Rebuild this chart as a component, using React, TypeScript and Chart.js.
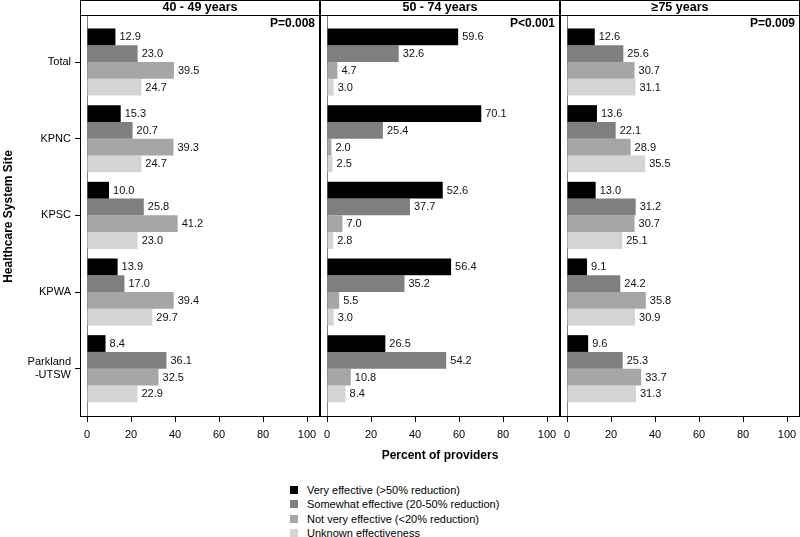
import React, { useEffect, useRef } from 'react';
import { Chart, registerables } from 'chart.js';

Chart.register(...registerables);

const FONT = '"Liberation Sans", Arial, Helvetica, sans-serif';

// ---------- data ----------
const sites = ['Total', 'KPNC', 'KPSC', 'KPWA', 'Parkland-UTSW'];
const siteTickLabels: string[][] = [['Total'], ['KPNC'], ['KPSC'], ['KPWA'], ['Parkland', '-UTSW']];
const seriesNames = [
  'Very effective (>50% reduction)',
  'Somewhat effective (20-50% reduction)',
  'Not very effective (<20% reduction)',
  'Unknown effectiveness',
];
const seriesColors = ['#000000', '#7f7f7f', '#a6a6a6', '#d4d4d4'];
const panelTitles = ['40 - 49 years', '50 - 74 years', '\u226575 years'];
const pValues = ['P=0.008', 'P<0.001', 'P=0.009'];
const xTicks = [0, 20, 40, 60, 80, 100];
const xTitle = 'Percent of providers';
const yTitle = 'Healthcare System Site';

// 40-49 years
const age40Very = [12.9, 15.3, 10.0, 13.9, 8.4];
const age40Somewhat = [23.0, 20.7, 25.8, 17.0, 36.1];
const age40NotVery = [39.5, 39.3, 41.2, 39.4, 32.5];
const age40Unknown = [24.7, 24.7, 23.0, 29.7, 22.9];
// 50-74 years
const age50Very = [59.6, 70.1, 52.6, 56.4, 26.5];
const age50Somewhat = [32.6, 25.4, 37.7, 35.2, 54.2];
const age50NotVery = [4.7, 2.0, 7.0, 5.5, 10.8];
const age50Unknown = [3.0, 2.5, 2.8, 3.0, 8.4];
// >=75 years
const age75Very = [12.6, 13.6, 13.0, 9.1, 9.6];
const age75Somewhat = [25.6, 22.1, 31.2, 24.2, 25.3];
const age75NotVery = [30.7, 28.9, 30.7, 35.8, 33.7];
const age75Unknown = [31.1, 35.5, 25.1, 30.9, 31.3];

const panelSeries = [
  [age40Very, age40Somewhat, age40NotVery, age40Unknown],
  [age50Very, age50Somewhat, age50NotVery, age50Unknown],
  [age75Very, age75Somewhat, age75NotVery, age75Unknown],
];

const X_MIN = -3.2;
const X_MAX = 105.9;
const Y_MIN = -0.6;
const Y_MAX = 4.63;
const CANVAS_H = 470;

type PanelProps = { idx: number; left: number; width: number; showY: boolean; showXTitle: boolean };

function Panel({ idx, left, width, showY, showXTitle }: PanelProps) {
  const ref = useRef<HTMLCanvasElement>(null);

  useEffect(() => {
    if (!ref.current) return;

    const framePlugin = {
      id: 'frame',
      beforeDatasetsDraw(chart: any) {
        const { ctx, chartArea: a, scales } = chart;
        const x0 = Math.round(scales.x.getPixelForValue(0)) + 0.5;
        ctx.save();
        ctx.strokeStyle = '#808080';
        ctx.lineWidth = 1;
        ctx.beginPath();
        ctx.moveTo(x0, a.top);
        ctx.lineTo(x0, a.bottom);
        ctx.stroke();
        ctx.restore();
      },
      afterDraw(chart: any) {
        const { ctx, chartArea: a } = chart;
        ctx.save();
        ctx.strokeStyle = '#000';
        ctx.lineWidth = 1;
        // header strip
        ctx.strokeRect(a.left + 0.5, 0.5, a.right - a.left - 1, a.top - 1);
        // plot box
        ctx.strokeRect(a.left + 0.5, a.top - 0.5, a.right - a.left - 1, a.bottom - a.top);
        ctx.fillStyle = '#000';
        ctx.font = `bold 12.5px ${FONT}`;
        ctx.textAlign = 'center';
        ctx.textBaseline = 'middle';
        ctx.fillText(panelTitles[idx], (a.left + a.right) / 2, 8);
        ctx.font = `bold 12px ${FONT}`;
        ctx.textAlign = 'right';
        ctx.fillText(pValues[idx], a.right - 5, a.top + 8);
        ctx.restore();
      },
    };

    const labelPlugin = {
      id: 'barLabels',
      afterDatasetsDraw(chart: any) {
        const { ctx } = chart;
        ctx.save();
        ctx.fillStyle = '#111';
        ctx.font = `11px ${FONT}`;
        ctx.textAlign = 'left';
        ctx.textBaseline = 'middle';
        chart.data.datasets.forEach((ds: any, i: number) => {
          const meta = chart.getDatasetMeta(i);
          meta.data.forEach((bar: any, j: number) => {
            const v = ds.data[j].x as number;
            ctx.fillText(v.toFixed(1), bar.x + 4, bar.y + 0.5);
          });
        });
        ctx.restore();
      },
    };

    const chart = new Chart(ref.current, {
      type: 'bar',
      data: {
        datasets: panelSeries[idx].map((vals, s) => ({
          label: seriesNames[s],
          data: vals.map((v, i) => ({ x: v, y: i })),
          backgroundColor: seriesColors[s],
          borderWidth: 0,
          categoryPercentage: 0.875,
          barPercentage: 1,
        })),
      },
      options: {
        indexAxis: 'y',
        animation: false,
        responsive: false,
        events: [],
        layout: { padding: { top: 16, left: 0, right: 0, bottom: 0 } },
        plugins: { legend: { display: false }, tooltip: { enabled: false } },
        scales: {
          x: {
            type: 'linear',
            min: X_MIN,
            max: X_MAX,
            offset: false,
            afterBuildTicks: (s: any) => {
              s.ticks = xTicks.map((v) => ({ value: v }));
            },
            afterFit: (s: any) => {
              s.height = CANVAS_H - 417;
              s.paddingLeft = 0;
              s.paddingRight = 0;
            },
            grid: { drawOnChartArea: false, drawTicks: true, tickLength: 5, color: '#000', offset: false },
            border: { display: false },
            ticks: {
              font: { family: FONT, size: 11 },
              color: '#000',
              padding: 6,
              maxRotation: 0,
              autoSkip: false,
            },
            title: {
              display: showXTitle,
              text: xTitle,
              color: '#000',
              font: { family: FONT, size: 12, weight: 'bold' },
              padding: { top: 0, bottom: 7 },
            },
          },
          y: {
            type: 'linear',
            reverse: true,
            min: Y_MIN,
            max: Y_MAX,
            offset: false,
            display: showY,
            afterBuildTicks: (s: any) => {
              s.ticks = sites.map((_, i) => ({ value: i }));
            },
            afterFit: (s: any) => {
              s.width = showY ? 80 : 0;
              s.paddingTop = 0;
              s.paddingBottom = 0;
            },
            grid: { drawOnChartArea: false, drawTicks: true, tickLength: 5, color: '#000', offset: false },
            border: { display: false },
            ticks: {
              callback: (v: any) => siteTickLabels[Math.round(Number(v))] || '',
              font: { family: FONT, size: 11 },
              color: '#000',
              padding: 4,
              autoSkip: false,
            },
            title: {
              display: showY,
              text: yTitle,
              color: '#000',
              font: { family: FONT, size: 12, weight: 'bold' },
              padding: { top: 1, bottom: 0 },
            },
          },
        },
      },
      plugins: [framePlugin, labelPlugin],
    } as any);

    return () => chart.destroy();
  }, [idx, showY, showXTitle]);

  return (
    <canvas
      ref={ref}
      width={width}
      height={CANVAS_H}
      style={{ position: 'absolute', left, top: 0, width, height: CANVAS_H }}
    />
  );
}

export default function App() {
  return (
    <div
      style={{
        position: 'absolute',
        left: 0,
        top: 0,
        width: 800,
        height: 537,
        background: '#fff',
        overflow: 'hidden',
      }}
    >
      <Panel idx={0} left={0} width={320} showY={true} showXTitle={false} />
      <Panel idx={1} left={320} width={240} showY={false} showXTitle={true} />
      <Panel idx={2} left={560} width={240} showY={false} showXTitle={false} />
      <div
        style={{
          position: 'absolute',
          left: 290,
          top: 483,
          fontFamily: FONT,
          fontSize: 11,
          color: '#000',
        }}
      >
        {seriesNames.map((n, i) => (
          <div key={n} style={{ display: 'flex', alignItems: 'center', height: 14.33, whiteSpace: 'nowrap' }}>
            <span
              style={{
                display: 'inline-block',
                width: 8,
                height: 8,
                background: seriesColors[i],
                marginRight: 9,
              }}
            />
            <span>{n}</span>
          </div>
        ))}
      </div>
    </div>
  );
}
